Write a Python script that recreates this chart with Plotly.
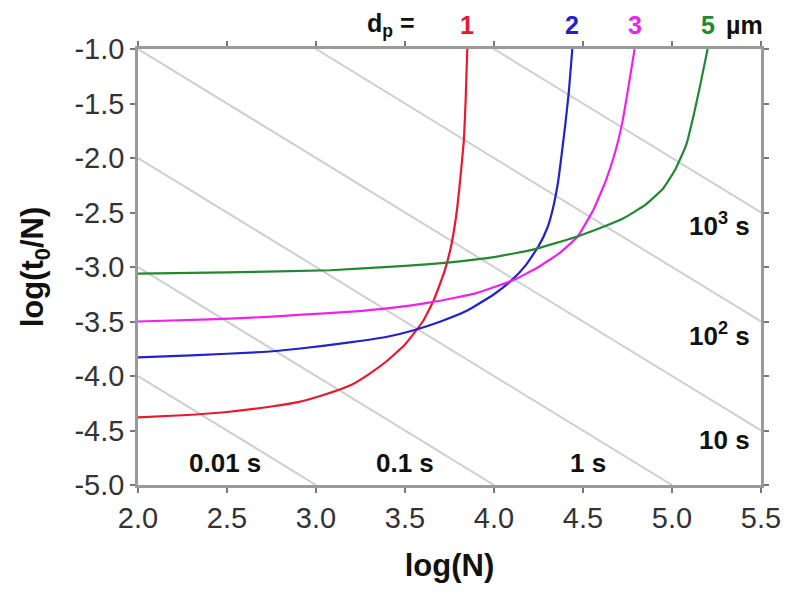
import plotly.graph_objects as go

# ---- data ----
red_x = [2.0, 2.25, 2.5, 2.75, 2.9, 3.05, 3.2, 3.3, 3.4, 3.5, 3.6, 3.66, 3.72, 3.76, 3.79, 3.81, 3.83, 3.84, 3.85]
red_y = [-4.38, -4.36, -4.33, -4.28, -4.24, -4.17, -4.08, -3.98, -3.86, -3.71, -3.50, -3.31, -3.05, -2.80, -2.50, -2.20, -1.85, -1.50, -1.0]

blue_x = [2.0, 2.3, 2.7, 2.9, 3.2, 3.4, 3.55, 3.7, 3.85, 4.0, 4.1, 4.18, 4.25, 4.30, 4.33, 4.36, 4.38, 4.40, 4.42, 4.43, 4.44]
blue_y = [-3.83, -3.81, -3.78, -3.75, -3.69, -3.64, -3.58, -3.50, -3.40, -3.25, -3.12, -2.98, -2.81, -2.64, -2.47, -2.22, -1.97, -1.70, -1.40, -1.20, -1.0]

mag_x = [2.0, 2.4, 2.7, 2.9, 3.2, 3.4, 3.66, 3.9, 4.11, 4.25, 4.37, 4.47, 4.56, 4.63, 4.68, 4.72, 4.75, 4.77, 4.79]
mag_y = [-3.50, -3.48, -3.46, -3.44, -3.41, -3.38, -3.32, -3.24, -3.12, -3.00, -2.87, -2.72, -2.47, -2.20, -1.95, -1.68, -1.40, -1.20, -1.0]

green_x = [2.0, 2.5, 3.08, 3.5, 3.74, 4.0, 4.22, 4.45, 4.6, 4.73, 4.85, 4.95, 5.02, 5.08, 5.12, 5.16, 5.20]
green_y = [-3.06, -3.05, -3.03, -2.99, -2.96, -2.91, -2.84, -2.73, -2.64, -2.55, -2.43, -2.28, -2.10, -1.88, -1.62, -1.32, -1.0]

series_names = ["1", "2", "3", "5"]
series_colors = ["#e8192f", "#2222cc", "#ee22ee", "#228833"]

# constant-time reference lines (endpoints) and labels
time_labels = ["0.01 s", "0.1 s", "1 s", "10 s", "10<sup>2</sup> s", "10<sup>3</sup> s"]
time_x0 = [2.0, 2.0, 2.0, 2.0, 3.0, 4.0]
time_y0 = [-4.0, -3.0, -2.0, -1.0, -1.0, -1.0]
time_x1 = [3.0, 4.0, 5.0, 5.5, 5.5, 5.5]
time_y1 = [-5.0, -5.0, -5.0, -4.5, -3.5, -2.5]
label_x = [2.49, 3.50, 4.53, 5.45, 5.45, 5.45]
label_y = [-4.80, -4.80, -4.80, -4.59, -3.62, -2.61]
label_anchor = ["center", "center", "center", "right", "right", "right"]

x_ticks = [2.0, 2.5, 3.0, 3.5, 4.0, 4.5, 5.0, 5.5]
y_ticks = [-5.0, -4.5, -4.0, -3.5, -3.0, -2.5, -2.0, -1.5, -1.0]

fig = go.Figure()

for x0, y0, x1, y1 in zip(time_x0, time_y0, time_x1, time_y1):
    fig.add_trace(go.Scatter(x=[x0, x1], y=[y0, y1], mode="lines",
                             line=dict(color="#cfcfcf", width=2),
                             hoverinfo="skip", showlegend=False))

for xs, ys, c in zip([red_x, blue_x, mag_x, green_x], [red_y, blue_y, mag_y, green_y], series_colors):
    fig.add_trace(go.Scatter(x=xs, y=ys, mode="lines",
                             line=dict(color=c, width=2.2, shape="spline", smoothing=0.4),
                             showlegend=False))

font_family = "Liberation Sans, Arial, sans-serif"

for t, lx, ly, a in zip(time_labels, label_x, label_y, label_anchor):
    fig.add_annotation(x=lx, y=ly, text="<b>" + t + "</b>", showarrow=False,
                       xanchor=a, yanchor="middle",
                       font=dict(family=font_family, size=26, color="#111"))

# header: d_p = 1 2 3 5 µm
hdr_y = 1.055
hdr_size = 25
fig.add_annotation(x=3.57, y=hdr_y, xref="x", yref="paper", text="<b>d<sub>p</sub> =</b>",
                   showarrow=False, xanchor="right", yanchor="middle",
                   font=dict(family=font_family, size=hdr_size, color="#111"))
end_x = [red_x[-1], blue_x[-1], mag_x[-1], green_x[-1]]
for n, ex, c in zip(series_names, end_x, series_colors):
    fig.add_annotation(x=ex, y=hdr_y, xref="x", yref="paper", text="<b>" + n + "</b>",
                       showarrow=False, xanchor="center", yanchor="middle",
                       font=dict(family=font_family, size=hdr_size, color=c))
fig.add_annotation(x=5.29, y=hdr_y, xref="x", yref="paper", text="<b>µm</b>",
                   showarrow=False, xanchor="left", yanchor="middle",
                   font=dict(family=font_family, size=hdr_size, color="#111"))

axis_common = dict(showgrid=False, zeroline=False, showline=True, linecolor="#9a9a9a",
                   linewidth=2.5, mirror="ticks", ticks="outside", ticklen=5,
                   tickcolor="#777", tickwidth=1.5, automargin=False,
                   tickfont=dict(family=font_family, size=29, color="#333"))

fig.update_layout(
    width=793, height=600,
    margin=dict(l=130, r=40, t=41, b=123),
    paper_bgcolor="white", plot_bgcolor="white",
    xaxis=dict(range=[2.0, 5.5], tickvals=x_ticks,
               ticktext=["%.1f" % v for v in x_ticks],
               title=dict(text="<b>log(N)</b>", standoff=22,
                          font=dict(family=font_family, size=31, color="#111")),
               **axis_common),
    yaxis=dict(range=[-5.0, -1.0], tickvals=y_ticks,
               ticktext=["%.1f" % v for v in y_ticks],
               title=dict(text="<b>log(t<sub>0</sub>/N)</b>", standoff=22,
                          font=dict(family=font_family, size=31, color="#111")),
               **axis_common),
)

fig.write_html("out.html")
